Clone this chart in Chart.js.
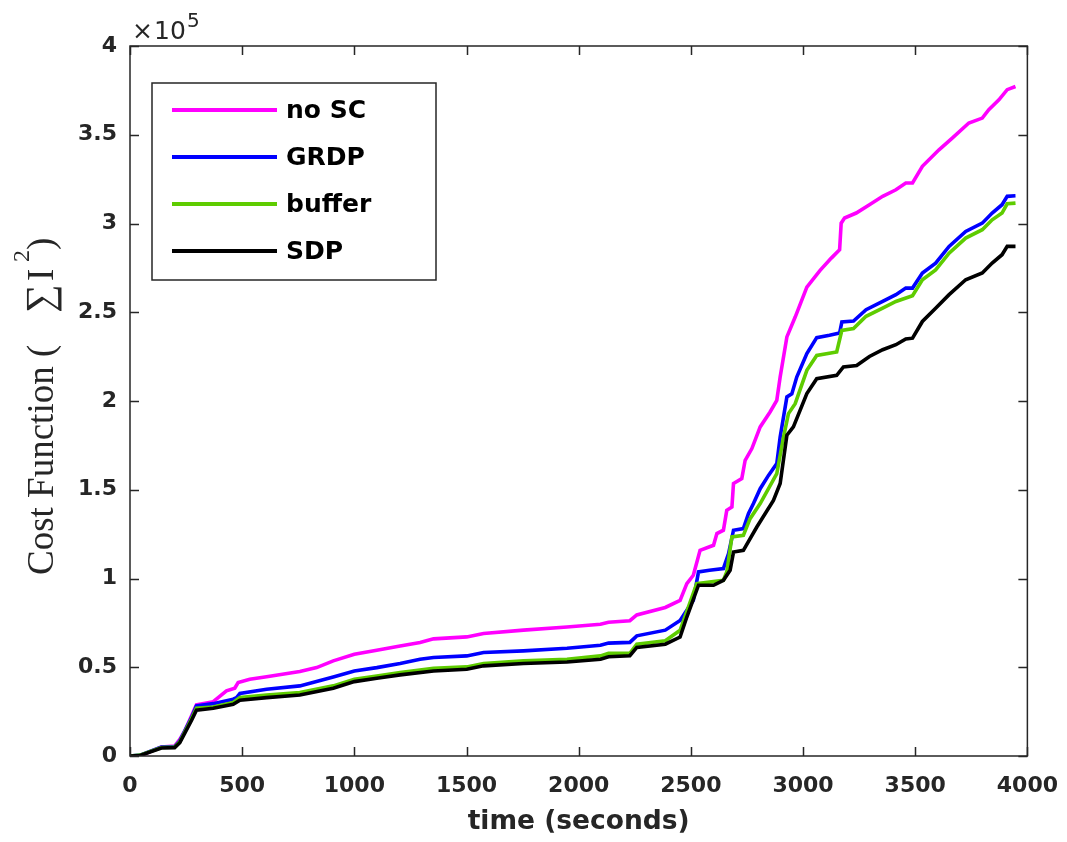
<!DOCTYPE html>
<html>
<head>
<meta charset="utf-8">
<script src="https://cdn.jsdelivr.net/npm/chart.js@4/dist/chart.umd.min.js"></script>
<style>
html,body{margin:0;padding:0;background:#fff;}
#wrap{width:1067px;height:842px;position:relative;}
</style>
</head>
<body>
<div id="wrap"><canvas id="c" width="1067" height="842"></canvas></div>
<script>
// ---- data (values in units of 1e5) ----
const seriesNames = ['no SC', 'GRDP', 'buffer', 'SDP'];

const tNoSC = [0,45,140,199,222,244,274,296,371,393,430,467,482,534,609,757,832,906,1000,1100,1204,1293,1353,1501,1576,1754,1948,2097,2133,2228,2259,2386,2452,2482,2511,2541,2601,2616,2645,2660,2683,2690,2727,2742,2772,2809,2853,2883,2898,2928,2965,3017,3076,3126,3163,3170,3185,3237,3296,3355,3414,3458,3488,3532,3606,3665,3739,3799,3828,3873,3910,3947];
const vNoSC = [0,0,0.051,0.056,0.094,0.141,0.226,0.288,0.306,0.329,0.367,0.382,0.414,0.432,0.447,0.476,0.498,0.536,0.573,0.596,0.62,0.639,0.66,0.671,0.69,0.709,0.727,0.742,0.754,0.762,0.795,0.837,0.877,0.971,1.018,1.159,1.187,1.253,1.272,1.384,1.403,1.535,1.563,1.666,1.732,1.854,1.938,2.004,2.135,2.361,2.473,2.642,2.736,2.805,2.852,3.002,3.031,3.059,3.106,3.153,3.19,3.228,3.228,3.322,3.415,3.481,3.566,3.594,3.641,3.697,3.754,3.772];

const tGRDP = [0,45,140,199,222,274,296,371,460,475,490,609,757,906,1000,1100,1204,1293,1353,1501,1576,1754,1948,2097,2133,2228,2259,2386,2452,2511,2534,2583,2645,2668,2690,2734,2757,2779,2809,2846,2883,2898,2928,2950,2972,3017,3061,3118,3163,3173,3225,3281,3355,3414,3458,3488,3532,3591,3651,3725,3799,3843,3887,3910,3947];
const vGRDP = [0,0.005,0.051,0.053,0.085,0.216,0.282,0.295,0.32,0.329,0.352,0.376,0.395,0.445,0.479,0.498,0.521,0.545,0.555,0.564,0.583,0.592,0.607,0.624,0.636,0.64,0.677,0.709,0.764,0.877,1.037,1.046,1.056,1.14,1.272,1.281,1.366,1.422,1.506,1.581,1.647,1.797,2.023,2.04,2.135,2.267,2.357,2.37,2.383,2.445,2.45,2.514,2.561,2.599,2.636,2.636,2.721,2.777,2.871,2.955,3.002,3.059,3.106,3.153,3.156];

const tBuffer = [0,45,140,199,222,274,296,371,460,490,609,757,906,1000,1100,1204,1353,1501,1576,1754,1948,2097,2133,2228,2259,2386,2452,2526,2645,2660,2683,2734,2764,2809,2883,2913,2935,2965,3017,3061,3150,3173,3225,3281,3355,3414,3488,3532,3591,3651,3725,3799,3843,3887,3910,3947];
const vBuffer = [0,0.005,0.048,0.05,0.08,0.21,0.269,0.276,0.301,0.329,0.344,0.357,0.395,0.432,0.451,0.47,0.494,0.502,0.521,0.536,0.545,0.564,0.578,0.578,0.63,0.649,0.708,0.971,0.99,1.037,1.234,1.243,1.337,1.422,1.591,1.797,1.929,1.985,2.173,2.257,2.276,2.398,2.408,2.477,2.523,2.561,2.593,2.683,2.739,2.833,2.918,2.965,3.021,3.059,3.111,3.115];

const tSDP = [0,45,140,199,222,274,296,371,460,490,609,757,906,1000,1100,1204,1353,1501,1576,1754,1948,2097,2133,2228,2259,2386,2452,2482,2534,2601,2645,2675,2690,2734,2794,2868,2898,2928,2957,3017,3061,3150,3180,3239,3296,3355,3414,3458,3488,3532,3591,3651,3725,3799,3843,3887,3910,3947];
const vSDP = [0,0.003,0.045,0.047,0.075,0.2,0.258,0.269,0.291,0.314,0.329,0.344,0.382,0.419,0.438,0.457,0.479,0.489,0.508,0.521,0.53,0.545,0.559,0.565,0.612,0.63,0.67,0.783,0.962,0.962,0.99,1.046,1.149,1.159,1.29,1.44,1.535,1.807,1.854,2.042,2.126,2.145,2.192,2.2,2.251,2.289,2.317,2.349,2.354,2.448,2.523,2.599,2.683,2.721,2.777,2.824,2.871,2.871];

const xTickValues = [0,500,1000,1500,2000,2500,3000,3500,4000];
const yTickLabels = ['0','0.5','1','1.5','2','2.5','3','3.5','4'];

const colors = ['#ff00ff', '#0000ff', '#5ecc00', '#000000'];
const axisColor = '#262626';
const sansBold = '"DejaVu Sans", sans-serif';
const serif = '"Liberation Serif", "Times New Roman", serif';

function pts(t, v){ return t.map((x,i)=>({x:x, y:v[i]})); }

const frame = {
  id:'frame',
  afterDatasetsDraw(chart){
    const ctx = chart.ctx, a = chart.chartArea;
    const xs = chart.scales.x, ys = chart.scales.y;
    ctx.save();
    ctx.strokeStyle = axisColor; ctx.lineWidth = 1.5;
    ctx.strokeRect(a.left, a.top, a.right-a.left, a.bottom-a.top);
    const L = 9;
    ctx.beginPath();
    xTickValues.forEach(v=>{
      const px = Math.round(xs.getPixelForValue(v))+0.5;
      ctx.moveTo(px, a.bottom); ctx.lineTo(px, a.bottom-L);
      ctx.moveTo(px, a.top); ctx.lineTo(px, a.top+L);
    });
    yTickLabels.forEach(s=>{
      const py = Math.round(ys.getPixelForValue(parseFloat(s)))+0.5;
      ctx.moveTo(a.left, py); ctx.lineTo(a.left+L, py);
      ctx.moveTo(a.right, py); ctx.lineTo(a.right-L, py);
    });
    ctx.stroke();

    // exponent label
    ctx.fillStyle = axisColor;
    ctx.textBaseline = 'alphabetic';
    ctx.textAlign = 'left';
    ctx.font = '25px "DejaVu Sans", sans-serif';
    ctx.fillText('\u00d7', 132, 39);
    ctx.fillText('10', 154, 39);
    ctx.font = '20px "DejaVu Sans", sans-serif';
    ctx.fillText('5', 187, 27);

    // y-axis title (rotated)
    ctx.save();
    ctx.translate(53, 0);
    ctx.rotate(-Math.PI/2);
    ctx.textAlign = 'left';
    ctx.textBaseline = 'alphabetic';
    ctx.font = '37px ' + serif;
    ctx.fillText('Cost Function (', -575, 0);
    ctx.font = '40px ' + serif;
    ctx.fillText('\u2211', -313, 0);
    ctx.font = '37px ' + serif;
    ctx.fillText('I', -281, 0);
    ctx.font = '24px ' + serif;
    ctx.fillText('2', -262, -24);
    ctx.font = '37px ' + serif;
    ctx.fillText(')', -250, 0);
    ctx.restore();

    // legend
    const bx = 152, by = 83, bw = 284, bh = 197;
    ctx.fillStyle = '#ffffff';
    ctx.fillRect(bx, by, bw, bh);
    ctx.strokeStyle = axisColor; ctx.lineWidth = 1.5;
    ctx.strokeRect(bx, by, bw, bh);
    ctx.font = 'bold 25px ' + sansBold;
    ctx.textBaseline = 'middle';
    chart.data.datasets.forEach((ds, i)=>{
      const y = 110 + i*47;
      ctx.strokeStyle = ds.borderColor; ctx.lineWidth = 4;
      ctx.beginPath(); ctx.moveTo(172, y); ctx.lineTo(277, y); ctx.stroke();
      ctx.fillStyle = '#000';
      ctx.fillText(ds.label, 286, y+1);
    });
    ctx.restore();
  }
};

new Chart(document.getElementById('c'), {
  type: 'line',
  data: {
    datasets: [
      {label: seriesNames[0], data: pts(tNoSC, vNoSC), borderColor: colors[0], order: 3},
      {label: seriesNames[1], data: pts(tGRDP, vGRDP), borderColor: colors[1], order: 2},
      {label: seriesNames[2], data: pts(tBuffer, vBuffer), borderColor: colors[2], order: 1},
      {label: seriesNames[3], data: pts(tSDP, vSDP), borderColor: colors[3], order: 0}
    ].map(d => Object.assign(d, {borderWidth: 3.6, pointRadius: 0, tension: 0, fill: false}))
  },
  options: {
    responsive: false,
    animation: false,
    layout: {padding: {top: 46, right: 39, left: 0, bottom: 0}},
    plugins: {legend: {display: false}, tooltip: {enabled: false}},
    scales: {
      x: {
        type: 'linear', min: 0, max: 4000,
        afterBuildTicks(s){ s.ticks = xTickValues.map(v=>({value:v})); },
        afterFit(s){ s.height = 86; },
        grid: {display: false},
        border: {display: false},
        ticks: {color: axisColor, padding: 9, font: {family: sansBold, size: 22, weight: 'bold'}, maxRotation: 0, callback: v => String(v)},
        title: {display: true, text: 'time (seconds)', color: axisColor, padding: {top: 2}, font: {family: sansBold, size: 26.5, weight: 'bold'}}
      },
      y: {
        type: 'linear', min: 0, max: 4,
        afterBuildTicks(s){ s.ticks = yTickLabels.map(v=>({value: parseFloat(v)})); },
        afterFit(s){ s.width = 130; },
        grid: {display: false},
        border: {display: false},
        ticks: {color: axisColor, padding: 5, font: {family: sansBold, size: 22, weight: 'bold'}, callback: (v, i) => yTickLabels[i]}
      }
    }
  },
  plugins: [frame]
});
</script>
</body>
</html>
